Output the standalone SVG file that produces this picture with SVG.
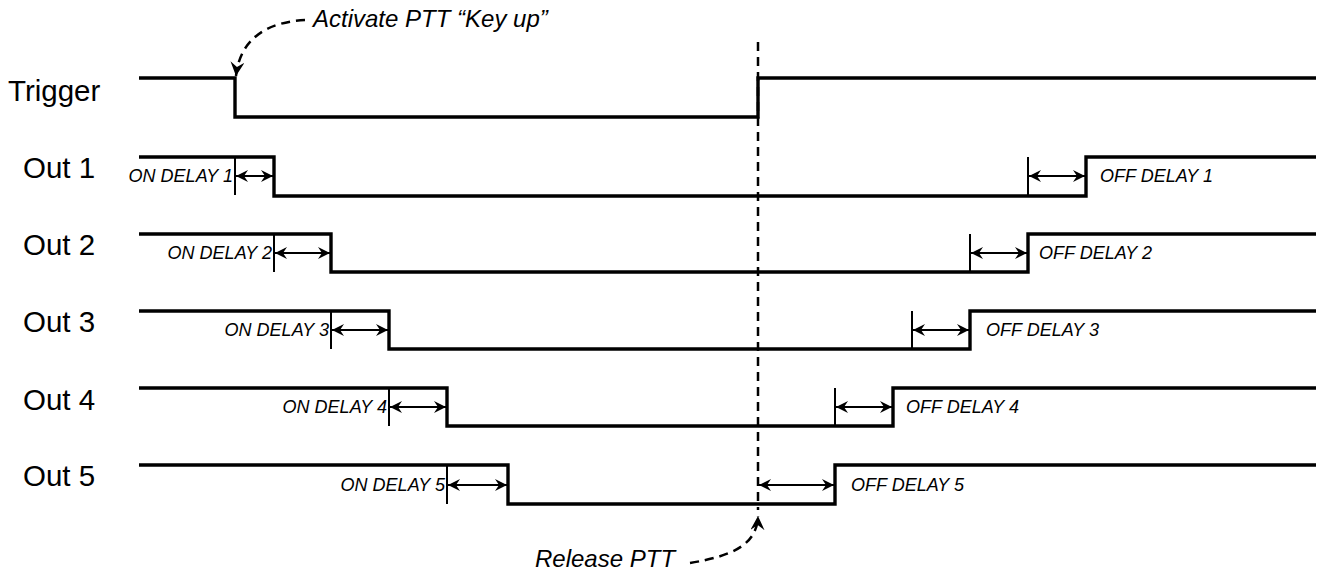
<svg xmlns="http://www.w3.org/2000/svg" width="1326" height="570" viewBox="0 0 1326 570">
<style>
.sig{fill:none;stroke:#000;stroke-width:3.4;stroke-linejoin:miter}
.tick{stroke:#000;stroke-width:2}
.arr{stroke:#000;stroke-width:2;marker-start:url(#ah);marker-end:url(#ah)}
.dash{fill:none;stroke:#000;stroke-width:2.5;stroke-dasharray:9,6}
.lbl{font-family:"Liberation Sans",Arial,sans-serif;font-size:29.5px;fill:#000}
.dl{font-family:"Liberation Sans",Arial,sans-serif;font-size:18px;font-style:italic;fill:#000}
.ann{font-family:"Liberation Sans",Arial,sans-serif;font-size:24px;font-style:italic;fill:#000}
</style>
<defs>
<marker id="ah" viewBox="0 0 12 12" markerUnits="userSpaceOnUse" markerWidth="12" markerHeight="12" refX="12" refY="6" orient="auto-start-reverse">
<path d="M0,0 L12,6 L0,12 L4,6 z" fill="#000"/>
</marker>
<marker id="ca" viewBox="0 0 14 14" markerUnits="userSpaceOnUse" markerWidth="14" markerHeight="14" refX="14" refY="7" orient="auto">
<path d="M0,0 L14,7 L0,14 L5,7 z" fill="#000"/>
</marker>
</defs>
<g id="labels">
<text class="lbl" x="8" y="101">Trigger</text>
<text class="lbl" x="23" y="178">Out 1</text>
<text class="lbl" x="23" y="255">Out 2</text>
<text class="lbl" x="23" y="332">Out 3</text>
<text class="lbl" x="23" y="410">Out 4</text>
<text class="lbl" x="23" y="486">Out 5</text>
</g>
<g id="trigger"><polyline class="sig" points="139,78 235,78 235,117 758,117 758,78 1316,78"/></g>
<g id="out1">
<polyline class="sig" points="139,157 274,157 274,196 1086,196 1086,157 1316,157"/>
<line class="tick" x1="235" y1="157" x2="235" y2="195"/>
<line class="arr" x1="236" y1="176" x2="273" y2="176"/>
<text class="dl" x="233" y="182" text-anchor="end">ON DELAY 1</text>
<line class="tick" x1="1028" y1="157" x2="1028" y2="196"/>
<line class="arr" x1="1029" y1="176" x2="1085" y2="176"/>
<text class="dl" x="1100" y="182">OFF DELAY 1</text>
</g>
<g id="out2">
<polyline class="sig" points="139,234 331,234 331,272 1028,272 1028,234 1316,234"/>
<line class="tick" x1="274" y1="234" x2="274" y2="272"/>
<line class="arr" x1="275" y1="253" x2="330" y2="253"/>
<text class="dl" x="272" y="259" text-anchor="end">ON DELAY 2</text>
<line class="tick" x1="970" y1="234" x2="970" y2="272"/>
<line class="arr" x1="971" y1="253" x2="1027" y2="253"/>
<text class="dl" x="1039" y="259">OFF DELAY 2</text>
</g>
<g id="out3">
<polyline class="sig" points="139,311 389,311 389,349 970,349 970,311 1316,311"/>
<line class="tick" x1="331" y1="311" x2="331" y2="349"/>
<line class="arr" x1="332" y1="330" x2="388" y2="330"/>
<text class="dl" x="329" y="336" text-anchor="end">ON DELAY 3</text>
<line class="tick" x1="912" y1="311" x2="912" y2="349"/>
<line class="arr" x1="913" y1="330" x2="969" y2="330"/>
<text class="dl" x="986" y="336">OFF DELAY 3</text>
</g>
<g id="out4">
<polyline class="sig" points="139,388 447,388 447,426 893,426 893,388 1316,388"/>
<line class="tick" x1="389" y1="388" x2="389" y2="426"/>
<line class="arr" x1="390" y1="407" x2="446" y2="407"/>
<text class="dl" x="387" y="413" text-anchor="end">ON DELAY 4</text>
<line class="tick" x1="835" y1="388" x2="835" y2="426"/>
<line class="arr" x1="836" y1="407" x2="892" y2="407"/>
<text class="dl" x="906" y="413">OFF DELAY 4</text>
</g>
<g id="out5">
<polyline class="sig" points="139,465 508,465 508,504 835,504 835,465 1316,465"/>
<line class="tick" x1="447" y1="465" x2="447" y2="504"/>
<line class="arr" x1="448" y1="485" x2="507" y2="485"/>
<text class="dl" x="445" y="491" text-anchor="end">ON DELAY 5</text>
<line class="arr" x1="759" y1="485" x2="834" y2="485"/>
<text class="dl" x="851" y="491">OFF DELAY 5</text>
</g>
<g id="connectors">
<line class="dash" x1="758" y1="42" x2="758" y2="510"/>
<path class="dash" d="M305,20 C268,22 240,38 236,76" marker-end="url(#ca)"/>
<path class="dash" d="M690,563 C732,556 757,545 758,516" marker-end="url(#ca)"/>
</g>
<g id="annotations">
<text class="ann" x="313" y="27">Activate PTT “Key up”</text>
<text class="ann" x="535" y="567">Release PTT</text>
</g>
</svg>
